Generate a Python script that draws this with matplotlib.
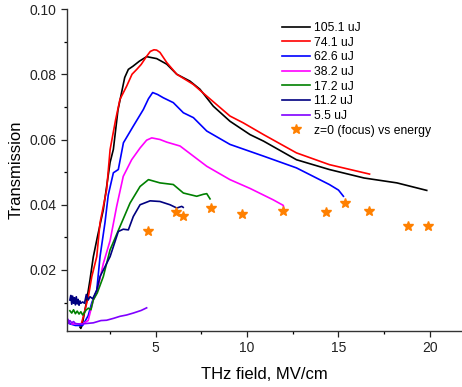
import matplotlib
matplotlib.use("Agg")
import matplotlib.pyplot as plt
from matplotlib.ticker import MultipleLocator

plt.rcParams['font.family'] = ['Liberation Sans', 'DejaVu Sans']

# ---- data ----
labels = ["105.1 uJ", "74.1 uJ", "62.6 uJ", "38.2 uJ", "17.2 uJ", "11.2 uJ", "5.5 uJ"]
colors = ["#000000", "#FF0000", "#0000FF", "#FF00FF", "#008000", "#000080", "#8000FF"]

x_105 = [0.85, 0.9, 0.95, 1.0, 1.2, 1.4, 1.58, 1.8, 2.13, 2.5, 2.68, 2.93, 3.04, 3.3, 3.5, 3.76, 4.1, 4.5,
         5.05, 5.6, 6.15, 6.87, 7.42, 8.15, 9.06, 10.16, 10.9, 12.7, 14.5, 16.4, 18.2, 19.83]
y_105 = [0.0025, 0.0021, 0.0028, 0.004, 0.010, 0.017, 0.024, 0.030, 0.0385, 0.053, 0.057, 0.069, 0.072, 0.079,
         0.0815, 0.0825, 0.084, 0.0854, 0.0848, 0.0831, 0.080, 0.0779, 0.0754, 0.0702, 0.0656, 0.0615, 0.0595,
         0.0538, 0.0508, 0.0482, 0.0467, 0.0444]

x_74 = [0.9, 1.0, 1.31, 1.5, 1.77, 1.95, 2.31, 2.5, 2.8, 3.04, 3.41, 3.7, 3.96, 4.2, 4.5, 4.7, 4.9, 5.05, 5.23,
        5.6, 6.15, 7.05, 7.79, 9.06, 9.79, 10.9, 12.7, 14.5, 16.7]
y_74 = [0.003, 0.005, 0.0118, 0.018, 0.0241, 0.0345, 0.0446, 0.0569, 0.066, 0.0723, 0.0764, 0.080, 0.0815,
        0.083, 0.0855, 0.0870, 0.0875, 0.0874, 0.0867, 0.0836, 0.080, 0.0769, 0.0733, 0.0672, 0.0651, 0.0615,
        0.0559, 0.0523, 0.0494]

x_62 = [0.3, 0.6, 1.0, 1.3, 1.5, 1.77, 1.95, 2.22, 2.4, 2.68, 2.95, 3.23, 3.77, 4.32, 4.6, 4.83, 5.1, 5.41,
        5.96, 6.51, 7.06, 7.79, 9.06, 10.9, 12.7, 14.5, 15.0, 15.27]
y_62 = [0.0035, 0.003, 0.003, 0.006, 0.010, 0.0138, 0.0241, 0.0345, 0.043, 0.0498, 0.0508, 0.059, 0.0641,
        0.0692, 0.0725, 0.0744, 0.0738, 0.0728, 0.0713, 0.0682, 0.0667, 0.0626, 0.0585, 0.0549, 0.0513, 0.0462,
        0.0445, 0.0426]

x_38 = [0.4, 1.0, 1.3, 1.58, 1.77, 2.13, 2.5, 2.86, 3.22, 3.68, 4.14, 4.5, 4.78, 5.23, 5.6, 6.33, 7.06,
        7.79, 9.06, 10.16, 11.43, 11.98, 12.0]
y_38 = [0.0035, 0.0035, 0.0045, 0.0108, 0.013, 0.022, 0.029, 0.0395, 0.0487, 0.0538, 0.0574, 0.0598, 0.0605,
        0.060, 0.0592, 0.058, 0.0549, 0.0518, 0.0477, 0.045, 0.0415, 0.0398, 0.039]

x_17 = [0.3, 0.4, 0.5, 0.6, 0.7, 0.8, 0.9, 1.0, 1.1, 1.2, 1.31, 1.45, 1.58, 1.8, 2.13, 2.5, 3.04, 3.59,
        4.14, 4.6, 5.23, 5.96, 6.51, 7.24, 7.6, 7.79, 7.97]
y_17 = [0.0075, 0.0068, 0.0078, 0.0066, 0.0074, 0.0065, 0.0072, 0.0062, 0.007, 0.0078, 0.0083, 0.0078,
        0.0108, 0.013, 0.018, 0.0262, 0.0333, 0.0405, 0.0456, 0.0477, 0.0467, 0.0462, 0.0436, 0.0426,
        0.0432, 0.0434, 0.0418]

x_11 = [0.3, 0.35, 0.4, 0.45, 0.5, 0.55, 0.6, 0.65, 0.7, 0.75, 0.8, 0.85, 0.9, 1.0, 1.1, 1.2, 1.3, 1.4,
        1.55, 1.77, 1.95, 2.5, 2.95, 3.22, 3.5, 3.77, 4.14, 4.69, 5.23, 5.78, 6.15, 6.42, 6.5]
y_11 = [0.0108, 0.0122, 0.0095, 0.012, 0.0098, 0.0115, 0.0093, 0.0118, 0.0096, 0.011, 0.0092, 0.0105,
        0.0098, 0.0102, 0.0098, 0.0125, 0.0108, 0.0118, 0.0112, 0.0138, 0.018, 0.0241, 0.0318, 0.0325,
        0.0323, 0.0364, 0.040, 0.0412, 0.041, 0.040, 0.039, 0.0395, 0.0392]

x_5 = [0.2, 0.25, 0.3, 0.4, 0.5, 0.6, 0.85, 1.2, 1.58, 2.0, 2.31, 2.7, 3.04, 3.4, 3.77, 4.2, 4.5]
y_5 = [0.0048, 0.0036, 0.0045, 0.0038, 0.0042, 0.0036, 0.0034, 0.0036, 0.0038, 0.0045, 0.0046, 0.0052,
       0.0058, 0.0062, 0.0068, 0.0076, 0.0084]

star_x = [4.56, 6.11, 6.47, 8.02, 9.74, 11.98, 14.3, 15.36, 16.69, 18.82, 19.88]
star_y = [0.032, 0.0378, 0.0364, 0.039, 0.0372, 0.0382, 0.0378, 0.0405, 0.038, 0.0335, 0.0335]
star_label = "z=0 (focus) vs energy"

series_x = [x_105, x_74, x_62, x_38, x_17, x_11, x_5]
series_y = [y_105, y_74, y_62, y_38, y_17, y_11, y_5]

# ---- plot ----
fig = plt.figure(figsize=(4.62, 3.87), dpi=100)
ax = fig.add_axes([0.1444, 0.1447, 0.8556, 0.832])

for xs, ys, lab, c in zip(series_x, series_y, labels, colors):
    ax.plot(xs, ys, color=c, lw=1.2, label=lab)
ax.plot(star_x, star_y, ls='none', marker='*', ms=7.5, color='#FF8000', mec='#FF8000', label=star_label)

ax.set_xlim(0.126, 21.76)
ax.set_ylim(0.0013, 0.10)
ax.xaxis.set_major_locator(MultipleLocator(5))
ax.xaxis.set_minor_locator(MultipleLocator(2.5))
ax.yaxis.set_major_locator(MultipleLocator(0.02))
ax.yaxis.set_minor_locator(MultipleLocator(0.01))
ax.yaxis.set_major_formatter(matplotlib.ticker.FormatStrFormatter('%.2f'))
ax.tick_params(which='major', direction='out', length=4.5, width=0.9, labelsize=10, pad=3, colors='#222222')
ax.tick_params(which='minor', direction='out', length=2.5, width=0.9)
for s in ['top', 'right']:
    ax.spines[s].set_visible(False)
for s in ['left', 'bottom']:
    ax.spines[s].set_linewidth(1.0)
    ax.spines[s].set_color('#333333')

ax.set_xlabel("THz field, MV/cm", fontsize=12, labelpad=8)
ax.set_ylabel("Transmission", fontsize=12, labelpad=4)

leg = ax.legend(loc='upper left', bbox_to_anchor=(0.532, 0.975), frameon=False, fontsize=8.7,
                handlelength=2.3, handletextpad=0.35, labelspacing=0.22, borderaxespad=0)

fig.savefig("out.png", dpi=100)
